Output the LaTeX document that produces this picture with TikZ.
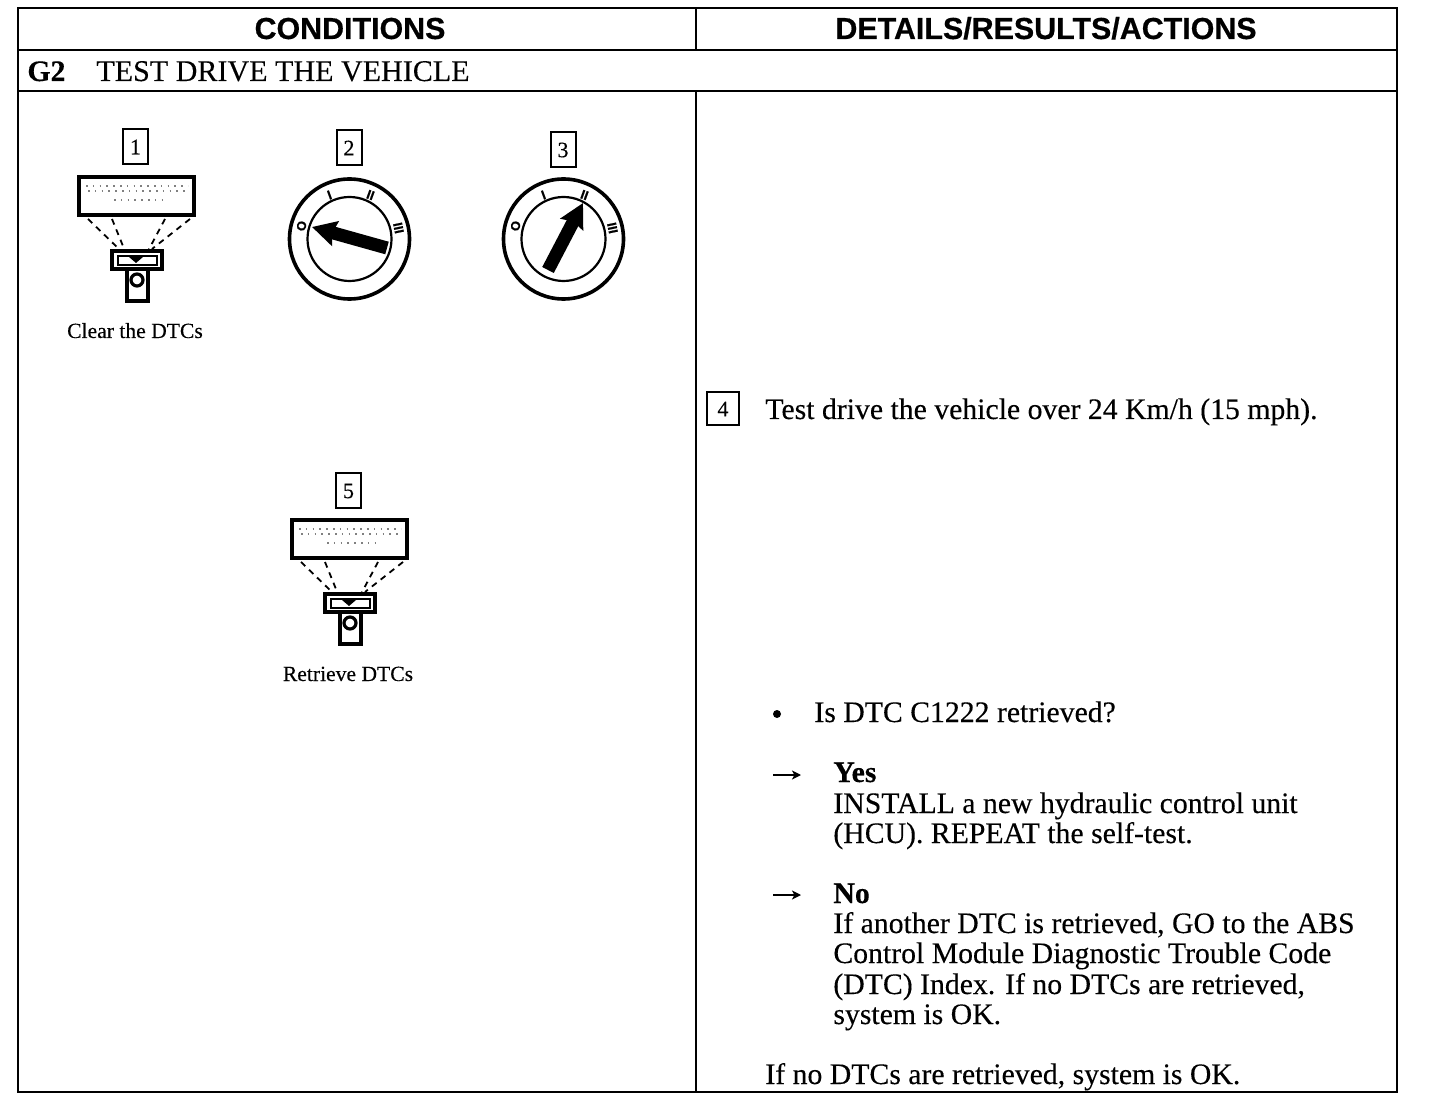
\documentclass[tikz,border=0pt]{standalone}
\usepackage{fontspec}
\setmainfont{Liberation Serif}[FakeBold=0.25]
\newfontfamily\headfont{Liberation Sans}[BoldFont={Liberation Sans Bold},BoldFeatures={FakeBold=0.5}]
\newfontfamily\markfont{Liberation Sans}[BoldFont={Liberation Sans Bold},BoldFeatures={FakeBold=1}]
\usetikzlibrary{arrows.meta,calc}
\tikzset{
  rule/.style={line width=1.25pt,black},
  headtxt/.style={font=\headfont\bfseries\fontsize{15.2}{18}\selectfont,inner sep=0pt,anchor=base},
  titletxt/.style={font=\bfseries\fontsize{14.9}{18}\selectfont,inner sep=0pt,anchor=base west},
  bodytxt/.style={font=\fontsize{14.87}{18}\selectfont,inner sep=0pt,anchor=base west},
  banner/.style={font=\fontsize{15.03}{18}\selectfont,inner sep=0pt,anchor=base west},
  capt/.style={font=\fontsize{10.8}{13}\selectfont,inner sep=0pt,anchor=base},
  numbox/.style={draw,line width=1pt,inner sep=0pt,minimum width=12.5pt,minimum height=17.5pt,font=\fontsize{11}{12}\selectfont},
  numboxw/.style={numbox,minimum width=16pt,minimum height=16.5pt},
  devline/.style={line width=1.6pt,black},
  beam/.style={line width=0.9pt,dash pattern=on 3pt off 2.6pt},
  noise/.style={line width=0.7pt,gray,dash pattern=on 0.8pt off 2.6pt},
  dialline/.style={black,line width=1.8pt},
  dialinner/.style={black,line width=1.1pt},
  dialmark/.style={font=\markfont\bfseries\fontsize{6.5}{6.5}\selectfont,inner sep=0pt},
  keyarrow/.style={line width=6.5pt,-{Stealth[length=12pt,width=12.5pt,inset=1.5pt]}},
  smallarrow/.style={line width=0.9pt,-{Stealth[length=4.5pt,width=4.5pt,inset=1.2pt]}},
  pics/scanner/.style={code={
    \draw[devline,fill=white,line width=1.8pt] (-57,-72) rectangle (58,-34);
    \draw[noise] (-50,-63) -- (52,-63);
    \draw[noise] (-48,-58) -- (50,-58);
    \draw[noise] (-22,-49) -- (30,-49);
    \draw[beam] (-48,-30) -- (-15,2);
    \draw[beam] (-24,-30) -- (-11,2);
    \draw[beam] (29,-30) -- (12,2);
    \draw[beam] (54,-30) -- (16,0);
    \draw[devline,line width=1.9pt] (-24,2) rectangle (26,20);
    \draw[devline,line width=1pt] (-18,7) rectangle (21,16);
    \fill (-7,8) -- (7,8) -- (0,14) -- cycle;
    \draw[devline,fill=white] (-9,20) rectangle (12,52);
    \draw[devline] (1,31) circle (6);
  }},
  pics/dial/.style={code={
    \draw[dialline] (0,0) circle (60);
    \draw[dialinner] (0,0) circle (42);
    \node[dialmark,rotate=75] (mo) at (-48,-13) {O};
    \node[dialmark,rotate=20] (mi) at (-20,-44) {I};
    \node[dialmark,rotate=-20] (mii) at (21,-44) {II};
    \node[dialmark,rotate=-78] (miii) at (49,-11) {III};
  }},
}
\begin{document}
\begin{tikzpicture}[x=0.5pt,y=-0.5pt]
\useasboundingbox (0,0) rectangle (1440,1106);
\fill[white] (0,0) rectangle (1440,1106);
% table
\draw[rule] (18,8) rectangle (1397,1092);
\draw[rule] (18,50) -- (1397,50);
\draw[rule] (18,91) -- (1397,91);
\draw[rule] (696,8) -- (696,50);
\draw[rule] (696,91) -- (696,1092);
\node[headtxt] (hcond) at (350,39) {CONDITIONS};
\node[headtxt] (hdet) at (1046,39) {DETAILS/RESULTS/ACTIONS};
\node[titletxt] (g2) at (27,81) {G2};
\node[banner] (gtitle) at (96,81) {TEST DRIVE THE VEHICLE};
% left column
\node[numbox] (n1) at (135.5,147) {1};
\node[numbox] (n2) at (349,148) {2};
\node[numbox] (n3) at (563,150) {3};
\node[numbox] (n5) at (348.5,491) {5};
\pic (sa) at (136,249) {scanner};
\pic (sb) at (349,592) {scanner};
\node[capt] (clear) at (135,338) {Clear the DTCs};
\node[capt] (retr) at (348,681) {Retrieve DTCs};
\pic (da) at (349.5,239) {dial};
\pic (db) at (563.5,239) {dial};
\coordinate (a2t) at (387,248);
\coordinate (a2h) at (312,227);
\coordinate (a3t) at (548,270);
\coordinate (a3h) at (583,203);
\draw[keyarrow] (a2t) -- (a2h);
\draw[keyarrow] (a3t) -- (a3h);
% right column
\node[numboxw] (n4) at (723,409) {4};
\node[bodytxt] (t4) at (765,419) {Test drive the vehicle over 24 Km/h (15 mph).};
\fill (777,714) circle (4) coordinate (bul);
\node[bodytxt] (q) at (814,722) {Is DTC C1222 retrieved?};
\coordinate (a1s) at (773,775);
\coordinate (a1e) at (801,775);
\draw[smallarrow] (a1s) -- (a1e);
\node[titletxt] (yes) at (833,782) {Yes};
\node[bodytxt] (y1) at (833,813) {INSTALL a new hydraulic control unit};
\node[bodytxt] (y2) at (833,843) {(HCU). REPEAT the self-test.};
\coordinate (a2s) at (773,895);
\coordinate (a2e) at (801,895);
\draw[smallarrow] (a2s) -- (a2e);
\node[titletxt] (no) at (833,903) {No};
\node[bodytxt] (n1a) at (833,933) {If another DTC is retrieved, GO to the ABS};
\node[bodytxt] (n2a) at (833,963) {Control Module Diagnostic Trouble Code};
\node[bodytxt] (n3a) at (833,994) {(DTC) Index. If no DTCs are retrieved,};
\node[bodytxt] (n4a) at (833,1024) {system is OK.};
\node[bodytxt] (last) at (765,1084) {If no DTCs are retrieved, system is OK.};
\end{tikzpicture}
\end{document}
